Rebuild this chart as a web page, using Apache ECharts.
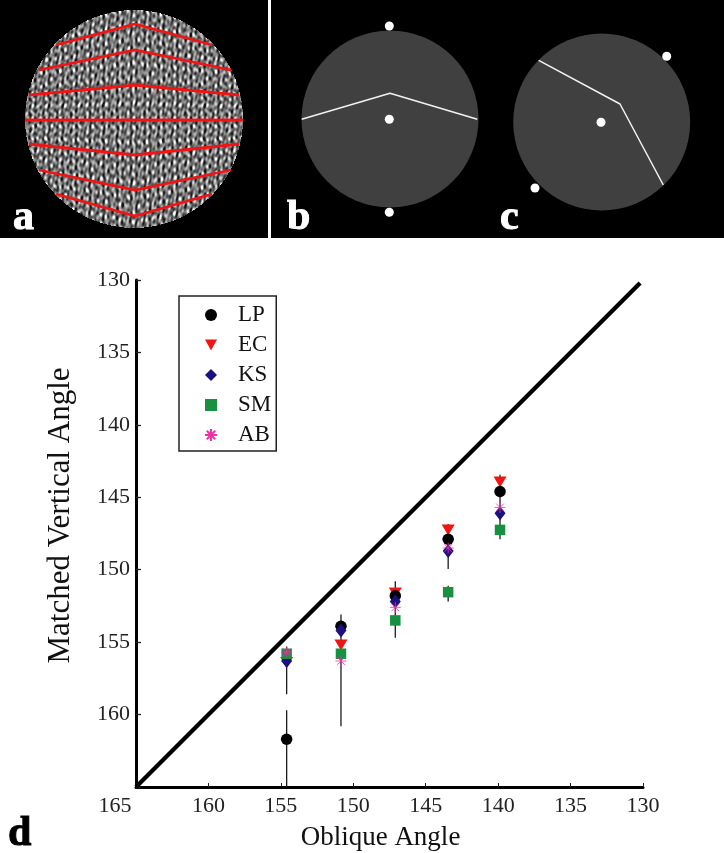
<!DOCTYPE html>
<html>
<head>
<meta charset="utf-8">
<style>html,body{margin:0;padding:0;background:#fff}#c{width:724px;height:853px}</style>
<script src="https://cdn.jsdelivr.net/npm/echarts@6/dist/echarts.min.js"></script>
</head>
<body>
<div id="c"></div>
<script>
// Main plot data
const obliqueAngles = [154.6, 150.85, 147.1, 143.45, 139.87];
const lpValues = [161.7, 153.9, 151.8, 147.9, 144.6];
const ecValues = [156.4, 155.2, 151.6, 147.25, 143.95];
const ksValues = [156.3, 154.2, 152.2, 148.7, 146.1];
const smValues = [155.8, 155.8, 153.5, 151.55, 147.25];
const abValues = [155.7, 156.3, 152.6, 148.5, 145.7];
const errorSegments = [
  [154.6, 155.3, 158.6], [154.6, 159.7, 165],
  [150.85, 153.1, 160.8],
  [147.1, 150.8, 154.7],
  [143.45, 146.85, 149.95], [143.45, 151.1, 152.2],
  [139.87, 143.45, 147.9]
];
const identityLine = [[165, 165], [130.2, 130.2]];
const axisTicks = [130, 135, 140, 145, 150, 155, 160, 165];
const legendNames = ['LP', 'EC', 'KS', 'SM', 'AB'];

// Top stimulus panels, in panel coordinates
const panelAChevrons = [
  [[56,45],[135,24],[212,45]],
  [[39,70],[135,50],[231,70]],
  [[29,95],[135,85],[239,95]],
  [[25,120],[243,120]],
  [[29,144],[135,155],[239,144]],
  [[39,170],[135,190],[231,170]],
  [[56,194],[135,216],[212,194]]
];
const panelDiscs = [[390,119],[601.7,122]];
const panelWhiteLines = [
  [[301.7,119.3],[390,93.3],[477.3,119.3]],
  [[538.7,60.3],[620,104],[663.3,185]]
];
const panelDots = [[389.3,26],[389.3,119.3],[389.3,212.3],[666.7,56.3],[601,122.3],[535,188]];

// Grey woven texture for panel a (decorative background, not data)
function makeTexture(){
  const D = 218, cv = document.createElement('canvas');
  cv.width = D; cv.height = D;
  const ctx = cv.getContext('2d'), im = ctx.createImageData(D, D), R = D/2;
  for (let j = 0; j < D; j++) for (let i = 0; i < D; i++) {
    const dx = i-R+0.5, dy = j-R+0.5, k = (i+j*D)*4;
    if (dx*dx+dy*dy > R*R) { im.data[k+3] = 0; continue; }
    const adx = Math.abs(dx), u = dy + adx*dy/R*0.25;
    const vert = Math.cos(dx*0.93 + 0.9*Math.sin(u*0.37)) * 0.7 + Math.cos(dx*1.37 - 0.7*Math.sin(u*0.23) + 0.5) * 0.5;
    const horiz = Math.cos(u*0.79) * 0.7 + Math.cos(u*0.47 + 1.3) * 0.45;
    const speck = Math.cos(dx*0.61 - u*0.67) * 0.3 + Math.cos(dx*0.61 + u*0.67 + 0.8) * 0.3 + Math.cos(dx*1.73 + u*0.41) * 0.25;
    const v = vert * (0.8 + 0.55*horiz) + speck + 0.25*horiz;
    const g = Math.max(20, Math.min(255, 120 + v*85));
    im.data[k] = im.data[k+1] = im.data[k+2] = g; im.data[k+3] = 255;
  }
  ctx.putImageData(im, 0, 0);
  const out = document.createElement('canvas');
  out.width = D; out.height = D;
  const octx = out.getContext('2d');
  octx.filter = 'blur(0.6px)';
  octx.drawImage(cv, 0, 0);
  return out;
}

const serif = '"Liberation Serif", "Times New Roman", serif';
const points = vals => obliqueAngles.map((x, i) => [x, vals[i]]);
const scatter = (name, vals, symbol, size, color, extra) => Object.assign({
  name, type: 'scatter', xAxisIndex: 0, yAxisIndex: 0, data: points(vals),
  symbol, symbolSize: size, itemStyle: { color, opacity: 1 }, z: 5, silent: true
}, extra || {});
const asterisk = 'path://M0 5L10 5M5 0L5 10M1.5 1.5L8.5 8.5M8.5 1.5L1.5 8.5';

const letter = (text, x, y, fill) => ({
  type: 'text', z: 20, x, y,
  style: { text, fill, stroke: fill, lineWidth: 1, font: 'bold 42px ' + serif, textVerticalAlign: 'bottom' }
});

const topSeries = [];
topSeries.push({
  type: 'scatter', xAxisIndex: 1, yAxisIndex: 1, data: panelDiscs, symbol: 'circle',
  symbolSize: 177, itemStyle: { color: '#404040', opacity: 1 }, z: 2, silent: true
});
panelAChevrons.forEach(d => topSeries.push({
  type: 'line', xAxisIndex: 1, yAxisIndex: 1, data: d, symbol: 'none', z: 3, silent: true,
  lineStyle: { color: '#f01414', width: 2.8, join: 'miter' }
}));
panelWhiteLines.forEach(d => topSeries.push({
  type: 'line', xAxisIndex: 1, yAxisIndex: 1, data: d, symbol: 'none', z: 3, silent: true,
  lineStyle: { color: '#f2f2f2', width: 1.5 }
}));
topSeries.push({
  type: 'scatter', xAxisIndex: 1, yAxisIndex: 1, data: panelDots, symbol: 'circle',
  symbolSize: 9, itemStyle: { color: '#fff', opacity: 1 }, z: 4, silent: true
});

const chart = echarts.init(document.getElementById('c'), null, { renderer: 'canvas' });
chart.setOption({
  backgroundColor: '#fff',
  animation: false,
  graphic: { elements: [
    { type: 'rect', z: 0, shape: { x: 0, y: 0, width: 268, height: 238 }, style: { fill: '#000' } },
    { type: 'rect', z: 0, shape: { x: 271, y: 0, width: 453, height: 238 }, style: { fill: '#000' } },
    { type: 'image', z: 1, style: { image: makeTexture(), x: 25, y: 10, width: 218, height: 218 } },
    letter('a', 13, 239, '#fff'),
    letter('b', 287, 239, '#fff'),
    letter('c', 500, 239, '#fff'),
    letter('d', 8, 855, '#000')
  ] },
  grid: [
    { left: 136, top: 280, width: 507, height: 507, outerBoundsMode: 'none' },
    { left: 0, top: 0, width: 724, height: 238, outerBoundsMode: 'none' }
  ],
  legend: {
    data: legendNames, orient: 'vertical', left: 179, top: 296,
    padding: [7.5, 5, 4.5, 25], itemWidth: 12, itemHeight: 12, itemGap: 7,
    backgroundColor: '#fff', borderColor: '#222', borderWidth: 1.5,
    textStyle: { fontFamily: serif, fontSize: 23, color: '#111', padding: [2, 0, 0, 16], lineHeight: 21 },
    selectedMode: false, z: 10
  },
  xAxis: [{
    type: 'value', inverse: true, min: 130, max: 165, interval: 5, position: 'bottom',
    name: 'Oblique Angle', nameLocation: 'middle', nameGap: 37,
    nameTextStyle: { fontFamily: serif, fontSize: 27, color: '#111', padding: [0, 18, 0, 0] },
    axisLine: { onZero: false, lineStyle: { color: '#000', width: 3 } },
    axisTick: { inside: true, length: 4, lineStyle: { color: '#222', width: 1 } },
    splitLine: { show: false },
    axisLabel: {
      fontFamily: serif, fontSize: 22, color: '#222', margin: 8, showMinLabel: true, showMaxLabel: true,
      hideOverlap: false, alignMinLabel: 'center', alignMaxLabel: 'center',
      formatter: v => v === axisTicks[axisTicks.length - 1] ? '{s|' + v + '}' : String(v),
      rich: { s: { fontFamily: serif, fontSize: 22, color: '#222', padding: [0, 42, 0, 0] } }
    }
  }, {
    type: 'value', gridIndex: 1, min: 0, max: 724, show: false
  }],
  yAxis: [{
    type: 'value', inverse: true, min: 130, max: 165, interval: 5, position: 'left',
    name: 'Matched Vertical Angle', nameLocation: 'middle', nameGap: 60,
    nameTextStyle: { fontFamily: serif, fontSize: 31, color: '#111', padding: [0, 0, 0, 36] },
    axisLine: { onZero: false, lineStyle: { color: '#000', width: 3 } },
    axisTick: { inside: true, length: 5, lineStyle: { color: '#222', width: 1.3 } },
    splitLine: { show: false },
    axisLabel: {
      fontFamily: serif, fontSize: 22, color: '#222', margin: 6,
      formatter: v => v === axisTicks[axisTicks.length - 1] ? '' : String(v)
    }
  }, {
    type: 'value', gridIndex: 1, inverse: true, min: 0, max: 238, show: false
  }],
  series: [
    ...topSeries,
    {
      type: 'custom', xAxisIndex: 0, yAxisIndex: 0, data: errorSegments, z: 3, silent: true,
      encode: { x: 0, y: [1, 2] }, clip: false,
      renderItem: (params, api) => {
        const a = api.coord([api.value(0), api.value(1)]);
        const b = api.coord([api.value(0), api.value(2)]);
        return { type: 'line', shape: { x1: a[0], y1: a[1], x2: b[0], y2: b[1] },
                 style: { stroke: '#1c1c1c', lineWidth: 1.3 } };
      }
    },
    {
      type: 'line', xAxisIndex: 0, yAxisIndex: 0, data: identityLine, symbol: 'none', z: 4, silent: true,
      lineStyle: { color: '#000', width: 4.3 }
    },
    scatter('EC', ecValues, 'path://M0 0L12 0L6 11Z', [13, 11], '#f01414', { z: 5 }),
    scatter('LP', lpValues, 'circle', 11.5, '#000', { z: 6 }),
    scatter('KS', ksValues, 'diamond', [11, 14], '#1a1080', { z: 7 }),
    scatter('SM', smValues, 'rect', 10.5, '#179040', { z: 8 }),
    scatter('AB', abValues, asterisk, 11, 'none', { z: 9, itemStyle: { color: '#f030a8', borderColor: '#f030a8', borderWidth: 0.8, opacity: 1 } })
  ]
});
</script>
</body>
</html>
